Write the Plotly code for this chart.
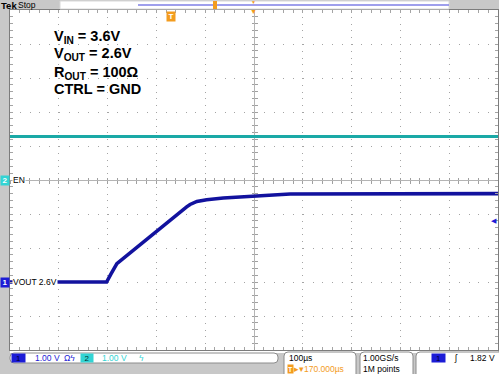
import plotly.graph_objects as go

W, H = 499, 374

# ---------------- data ----------------
time_us = [-330, -132, -123, -111, 32, 39, 53, 73, 107, 172, 244, 670]
vout_v = [0.0, 0.0, 0.24, 0.54, 2.21, 2.28, 2.37, 2.42, 2.47, 2.53, 2.59, 2.60]
en_time_us = [-330, 670]
en_v = [1.28, 1.28]

ch_labels = ["VOUT 2.6V", "EN"]
ch_scale_v = [1.00, 1.00]          # V/div
ch_pos_div = [-3.0, 0.0]           # marker position, divisions
time_div_us = 100                  # µs/div
h_delay_us = 170                   # trigger to centre
trig_level_v = 1.82
sample_rate = "1.00GS/s"
record_len = "1M points"
cond_lines = ["V<sub>IN</sub> = 3.6V", "V<sub>OUT</sub> = 2.6V",
              "R<sub>OUT</sub> = 100Ω", "CTRL = GND"]

# ---------------- styling ----------------
CH1 = "#12129e"
CH1_UI = "#1c1cd6"
CH2 = "#1aa9a6"
CH2_UI = "#33d4d4"
ORANGE = "#f39c1e"
GRID = "#a4a4a4"
FRAME = "#7c7c7c"
BG = "#c8c8c8"
FONT = "Liberation Sans, Arial, sans-serif"


def px(x):
    return x / W


def py(y):
    return 1 - y / H


x_range = [h_delay_us - 5 * time_div_us, h_delay_us + 5 * time_div_us]
y_range = [-5, 5]
XD = [px(10), px(498)]
YD = [py(350), py(10)]

fig = go.Figure()

y1 = [v / ch_scale_v[0] + ch_pos_div[0] for v in vout_v]
y2 = [v / ch_scale_v[1] + ch_pos_div[1] for v in en_v]

fig.add_trace(go.Scatter(x=en_time_us, y=y2, mode="lines",
                         line=dict(color=CH2, width=3), hoverinfo="skip",
                         showlegend=False))
fig.add_trace(go.Scatter(x=time_us, y=y1, mode="lines",
                         line=dict(color=CH1, width=3.6), hoverinfo="skip",
                         showlegend=False))
# empty traces so the centre-cross axes get drawn
for xa, ya in [("x2", "y"), ("x3", "y"), ("x", "y2"), ("x", "y3")]:
    fig.add_trace(go.Scatter(x=[None], y=[None], xaxis=xa, yaxis=ya,
                             showlegend=False, hoverinfo="skip"))

common_x = dict(range=x_range, tick0=x_range[0], dtick=time_div_us,
                showticklabels=False, zeroline=False, fixedrange=True)
common_y = dict(range=y_range, tick0=y_range[0], dtick=1,
                showticklabels=False, zeroline=False, fixedrange=True)

fig.update_layout(
    width=W, height=H, margin=dict(l=0, r=0, t=0, b=0),
    paper_bgcolor=BG, plot_bgcolor="white",
    xaxis=dict(domain=XD, anchor="y", showgrid=True, gridcolor=GRID,
               griddash="1px,5.8px", gridwidth=1,
               ticks="inside", ticklen=3, tickcolor=GRID,
               minor=dict(dtick=time_div_us / 5, tick0=x_range[0], ticks="inside",
                          ticklen=3, tickcolor=GRID, showgrid=False),
               showline=True, linecolor=FRAME, linewidth=1, mirror="allticks",
               **common_x),
    yaxis=dict(domain=YD, anchor="x", showgrid=True, gridcolor=GRID,
               griddash="1px,8.76px", gridwidth=1,
               ticks="inside", ticklen=3, tickcolor=GRID,
               minor=dict(dtick=0.2, tick0=y_range[0], ticks="inside",
                          ticklen=3, tickcolor=GRID, showgrid=False),
               showline=True, linecolor=FRAME, linewidth=1, mirror="allticks",
               **common_y),
)
centre_y = (YD[0] + YD[1]) / 2
centre_x = (XD[0] + XD[1]) / 2
for name, tk in [("xaxis2", "outside"), ("xaxis3", "inside")]:
    fig.layout[name] = dict(overlaying="x", anchor="free", position=centre_y,
                            showgrid=False, showline=True, linecolor="#b4b4b4",
                            ticks=tk, ticklen=2.5, tickcolor="#a0a0a0",
                            minor=dict(dtick=time_div_us / 5, tick0=x_range[0],
                                       ticks=tk, ticklen=2.5, tickcolor="#a0a0a0"),
                            layer="below traces", **common_x)
for name, tk in [("yaxis2", "outside"), ("yaxis3", "inside")]:
    fig.layout[name] = dict(overlaying="y", anchor="free", position=centre_x,
                            showgrid=False, showline=True, linecolor="#b4b4b4",
                            ticks=tk, ticklen=2.5, tickcolor="#a0a0a0",
                            minor=dict(dtick=0.2, tick0=y_range[0],
                                       ticks=tk, ticklen=2.5, tickcolor="#a0a0a0"),
                            layer="below traces", **common_y)


def rrect(x0, y0, x1, y1, r):
    pts = (f"M{px(x0 + r)},{py(y0)} L{px(x1 - r)},{py(y0)} "
           f"Q{px(x1)},{py(y0)} {px(x1)},{py(y0 + r)} L{px(x1)},{py(y1 - r)} "
           f"Q{px(x1)},{py(y1)} {px(x1 - r)},{py(y1)} L{px(x0 + r)},{py(y1)} "
           f"Q{px(x0)},{py(y1)} {px(x0)},{py(y1 - r)} L{px(x0)},{py(y0 + r)} "
           f"Q{px(x0)},{py(y0)} {px(x0 + r)},{py(y0)} Z")
    return pts


shapes = []
# white strip between graticule and status bar
shapes.append(dict(type="rect", xref="paper", yref="paper", x0=px(10), x1=px(498),
                   y0=py(353), y1=py(350), fillcolor="white", line_width=0,
                   layer="below"))
# top record-view bar
shapes.append(dict(type="rect", xref="paper", yref="paper", x0=px(60), x1=px(449),
                   y0=py(9), y1=py(1), fillcolor="white",
                   line=dict(color="#d8d8d8", width=1)))
shapes.append(dict(type="line", xref="paper", yref="paper", x0=px(138), x1=px(449),
                   y0=py(5), y1=py(5), line=dict(color="#7f7fe6", width=1.5)))
shapes.append(dict(type="rect", xref="paper", yref="paper", x0=px(213), x1=px(217),
                   y0=py(9), y1=py(1), fillcolor=ORANGE, line_width=0))
# status boxes
for (x0, y0, x1, y1) in [(10, 353, 278, 363), (284, 352, 356, 380),
                         (360, 352, 413, 380), (416, 352, 505, 380)]:
    shapes.append(dict(type="path", xref="paper", yref="paper",
                       path=rrect(x0, y0, x1, y1, 4), fillcolor="white",
                       line=dict(color="#8c8c8c", width=1)))
fig.update_layout(shapes=shapes)

ann = []


def text(x, y, s, size=8.5, color="black", xanchor="left", yanchor="middle",
         bold=False, bg=None, w=None, h=None, xref="paper", yref="paper", align="left"):
    d = dict(x=x, y=y, xref=xref, yref=yref, text=f"<b>{s}</b>" if bold else s,
             showarrow=False, xanchor=xanchor, yanchor=yanchor, align=align,
             font=dict(family=FONT, size=size, color=color), borderpad=0)
    if bg:
        d["bgcolor"] = bg
    if w:
        d["width"] = w
    if h:
        d["height"] = h
    ann.append(d)


# condition text
for line, base in zip(cond_lines, [40, 57, 76, 93]):
    text(px(53), py(base - 0.905 * 14.5), line, size=14.5, bold=True, yanchor="top")

# header
text(px(0), py(5.5), "Tek", size=9.5, bold=True)
text(px(16.5), py(5.5), "Stop", size=8.5)
text(px(254), py(2), "▼", size=5, color=ORANGE, xanchor="center")
text(px(254), py(11.5), "▼", size=7, color=ORANGE, xanchor="center")

# trigger position marker
text(0, py(17), "T", size=8, color="white", xanchor="center", bg=ORANGE,
     w=8, h=9, xref="x", bold=True, align="center")

# channel markers and labels
text(px(0), ch_pos_div[1], "2", size=8, color="white", bg=CH2_UI, w=8, h=9,
     yref="y", align="center", bold=True)
text(px(12), ch_pos_div[1], ch_labels[1], size=8.5, bg="white", yref="y")
text(px(0), ch_pos_div[0], "1", size=8, color="white", bg=CH1_UI, w=8, h=9,
     yref="y", align="center", bold=True)
text(px(12), ch_pos_div[0], ch_labels[0], size=8.5, bg="white", yref="y")
# trigger level arrow
text(px(498), ch_pos_div[0] + trig_level_v / ch_scale_v[0], "◀", size=7,
     color=CH1_UI, xanchor="right", yref="y")

# status bar
L1, L2 = py(358), py(369)
text(px(18.5), L1, "1", size=8, color="#000030", bg=CH1_UI, w=13, h=8,
     xanchor="center", align="center")
text(px(34), L1, f"{ch_scale_v[0]:.2f} V", size=8.5, color=CH1_UI)
text(px(63), L1, "Ωϟ", size=8.5, color=CH1_UI)
text(px(87), L1, "2", size=8, color="#003030", bg=CH2_UI, w=12, h=8,
     xanchor="center", align="center")
text(px(101), L1, f"{ch_scale_v[1]:.2f} V", size=8.5, color=CH2_UI)
text(px(138), L1, "ϟ", size=8.5, color=CH2_UI)

text(px(288), L1, f"{time_div_us}µs", size=8.5)
text(px(290), L2, "T", size=7, color="white", bg=ORANGE, w=5, h=8,
     xanchor="center", align="center", bold=True)
text(px(293), L2, f"▸▾{h_delay_us:.3f}µs", size=8.5, color=ORANGE)
text(px(362), L1, sample_rate, size=8.5)
text(px(362), L2, record_len, size=8.5)
text(px(438.5), L1, "1", size=8, color="#000030", bg=CH1_UI, w=13, h=8,
     xanchor="center", align="center")
text(px(456), L1, "ʃ", size=8.5, color="black", xanchor="center")
text(px(496), L1, f"{trig_level_v:.2f} V", size=8.5, xanchor="right")

fig.update_layout(annotations=ann)
fig.write_html("out.html")
